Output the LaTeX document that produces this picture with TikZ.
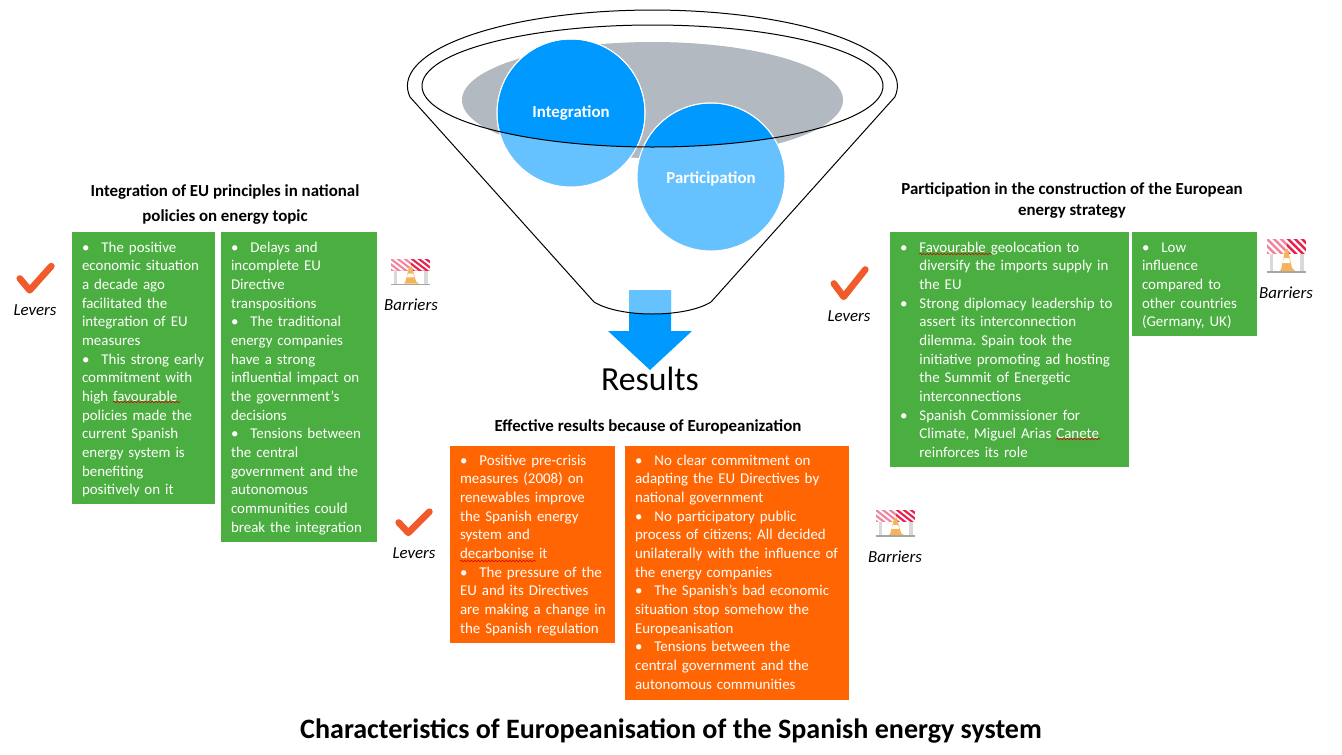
\documentclass[tikz,border=0pt]{standalone}
\usepackage{fontspec}
\setmainfont{Carlito}
\frenchspacing
\usetikzlibrary{decorations.pathmorphing}
\definecolor{panelgreen}{HTML}{4BAE40}
\definecolor{panelorange}{HTML}{FF6503}
\definecolor{darkblue}{HTML}{0099FF}
\definecolor{lightblue}{HTML}{66C2FF}
\definecolor{funnelgrey}{HTML}{B2B9C1}
\definecolor{checkred}{HTML}{F15A2B}
\definecolor{stripepink}{HTML}{EE6F8C}
\definecolor{stripered}{HTML}{E8224F}
\definecolor{coneorange}{HTML}{F5B35A}
\newcommand\bul{\makebox[14.6pt][l]{•}}
\newcommand\hng{\hspace*{14.6pt}}
\newcommand\panellines[1]{\makebox[0pt][l]{\begin{tabular}[t]{@{}l@{}}#1\end{tabular}}}
\newcommand\levercheck[4]{\draw[checkmk] ({#1+.1*#3},{#2+.5*#4}) -- ({#1+.36*#3},{#2+.88*#4}) -- ({#1+.93*#3},{#2+.1*#4});}
\tikzset{
  x=.75pt,y=-.75pt,
  panel/.style n args={3}{anchor=north west,inner xsep=7.5pt,inner ysep=0pt,outer sep=0pt,
     fill=#3,text=white,align=left,font=\fontsize{11.2}{14}\selectfont,
     text width={(#1-20)*.75pt},text height=15pt,text depth={(#2)*.75pt-15pt}},
  heading/.style={align=center,font=\fontsize{12.65}{18.75}\selectfont\bfseries},
  tag/.style={font=\fontsize{12.65}{14}\selectfont\itshape},
  disc/.style={circle,fill=lightblue,draw=white,line width=.75pt,minimum size=111pt,inner sep=0pt,outer sep=0pt},
  disclabel/.style={text=white,font=\fontsize{12.65}{14}\selectfont\bfseries},
  checkmk/.style={draw=checkred,line width=5pt,line cap=round,line join=round},
  funnelline/.style={draw=black,line width=.75pt},
  spell/.style={draw=red!85!black,line width=.4pt,decorate,decoration={snake,amplitude=.55pt,segment length=2.6pt}},
  barrier/.pic={
    \fill[gray!30] (2.5,15) rectangle (6,32);
    \fill[gray!30] (33,15) rectangle (36.5,32);
    \begin{scope}
      \clip (0,0) rectangle (39,15);
      \fill[stripepink!85] (0,0) rectangle (19.5,15);
      \fill[stripered] (19.5,0) rectangle (39,15);
      \foreach \s in {-12,-5,...,37} {\fill[white] (\s,0) -- (\s+3,0) -- (\s+18,15) -- (\s+15,15) -- cycle;}
    \end{scope}
    \fill[coneorange] (18.2,10) -- (20.8,10) -- (25,29) -- (28,32) -- (13,32) -- (14.5,29) -- cycle;
    \fill[white] (16.8,19) -- (22.2,19) -- (23.2,24) -- (15.8,24) -- cycle;
    \fill[gray!70] (0,32) rectangle (39,34);
  }
}
\begin{document}
\begin{tikzpicture}
\useasboundingbox (0,0) rectangle (1342,754);

% funnel contents
\fill[funnelgrey] (652.5,100) ellipse [x radius=190.5,y radius=58];
\node[disc] (integration) at (571,113) {};
\node[disc] (participation) at (711,177) {};
\begin{scope}
  \clip (652.5,86) ellipse [x radius=230.5,y radius=61];
  \fill[darkblue] (integration.center) circle [radius=73.5];
  \draw[white,line width=.75pt] (integration.center) circle [radius=74];
  \fill[darkblue] (participation.center) circle [radius=73.5];
  \draw[white,line width=.75pt] (participation.center) circle [radius=74];
\end{scope}
\node[disclabel] (integrationtext) at (571,113) {Integration};
\node[disclabel] (participationtext) at (711,179) {Participation};

% block arrow
\fill[darkblue] (629,290) -- (671,290) -- (671,331) -- (692,331) -- (650,370) -- (608,331) -- (629,331) -- cycle;
\begin{scope}
  \clip (594,280) -- (594,302) .. controls (620,318) and (685,318) .. (711,302) -- (711,280) -- cycle;
  \fill[lightblue] (629,290) rectangle (671,340);
\end{scope}

% funnel outline
\draw[funnelline] (652.5,86) ellipse [x radius=230.5,y radius=61];
\draw[funnelline,line join=round] (410,97) arc [start angle=171.7,end angle=368.3,x radius=245,y radius=76]
   -- (711,302) .. controls (685,318) and (620,318) .. (594,302) -- cycle;

\node[font=\fontsize{25.3}{28}\selectfont] (results) at (650,379) {Results};

% headings
\node[heading] (headleft) at (225,204) {Integration of EU principles in national\\policies on energy topic};
\node[heading,font=\fontsize{12.65}{15.75}\selectfont\bfseries] (headright) at (1072,200.5) {Participation in the construction of the European\\energy strategy};
\node[heading] (headmid) at (648,426.5) {Effective results because of Europeanization};
\node[font=\fontsize{21.05}{24}\selectfont\bfseries] (maintitle) at (671,731) {Characteristics of Europeanisation of the Spanish energy system};

% panels
\node[panel={143}{272}{panelgreen}] (leverleft) at (72,232) {\panellines{\bul The positive\\economic situation\\a decade ago\\facilitated the\\integration of EU\\measures\\\bul This strong early\\commitment with\\high favourable\\policies made the\\current Spanish\\energy system is\\benefiting\\positively on it}};
\node[panel={156}{310}{panelgreen}] (barrierleft) at (221,232) {\panellines{\bul Delays and\\incomplete EU\\Directive\\transpositions\\\bul The traditional\\energy companies\\have a strong\\influential impact on\\the government’s\\decisions\\\bul Tensions between\\the central\\government and the\\autonomous\\communities could\\break the integration}};
\node[panel={239}{235}{panelgreen}] (leverright) at (890,232) {\panellines{\bul Favourable geolocation to\\\hng diversify the imports supply in\\\hng the EU\\\bul Strong diplomacy leadership to\\\hng assert its interconnection\\\hng dilemma. Spain took the\\\hng initiative promoting ad hosting\\\hng the Summit of Energetic\\\hng interconnections\\\bul Spanish Commissioner for\\\hng Climate, Miguel Arias Canete\\\hng reinforces its role}};
\node[panel={125}{104}{panelgreen}] (barrierright) at (1132,232) {\panellines{\bul Low\\influence\\compared to\\other countries\\(Germany, UK)}};
\node[panel={165}{197}{panelorange},text height=14.25pt,text depth={197*.75pt-14.25pt}] (levermid) at (450,446) {\panellines{\bul Positive pre-crisis\\measures (2008) on\\renewables improve\\the Spanish energy\\system and\\decarbonise it\\\bul The pressure of the\\EU and its Directives\\are making a change in\\the Spanish regulation}};
\node[panel={224}{254}{panelorange},text height=14.25pt,text depth={254*.75pt-14.25pt}] (barriermid) at (625,446) {\panellines{\bul No clear commitment on\\adapting the EU Directives by\\national government\\\bul No participatory public\\process of citizens; All decided\\unilaterally with the influence of\\the energy companies\\\bul The Spanish’s bad economic\\situation stop somehow the\\Europeanisation\\\bul Tensions between the\\central government and the\\autonomous communities}};

% spell-check marks
\draw[spell] (113,402) -- (180,402);
\draw[spell] (919,254) -- (992,254);
\draw[spell] (460,561) -- (536,561);
\draw[spell] (1056,439) -- (1100,439);

% levers and barriers
\levercheck{16}{263}{38}{31}
\node[tag] (levera) at (35,310) {Levers};
\levercheck{830}{266}{38}{35}
\node[tag] (leverb) at (849,316) {Levers};
\levercheck{395}{509}{37}{27}
\node[tag] (leverc) at (414,553) {Levers};
\pic[yscale=.77] at (391,259) {barrier};
\node[tag] (barrierlabela) at (411,305) {Barriers};
\pic at (1267,239) {barrier};
\node[tag] (barrierlabelb) at (1286,293) {Barriers};
\pic[yscale=.79] at (876,510) {barrier};
\node[tag] (barrierlabelc) at (895,557) {Barriers};
\end{tikzpicture}
\end{document}
